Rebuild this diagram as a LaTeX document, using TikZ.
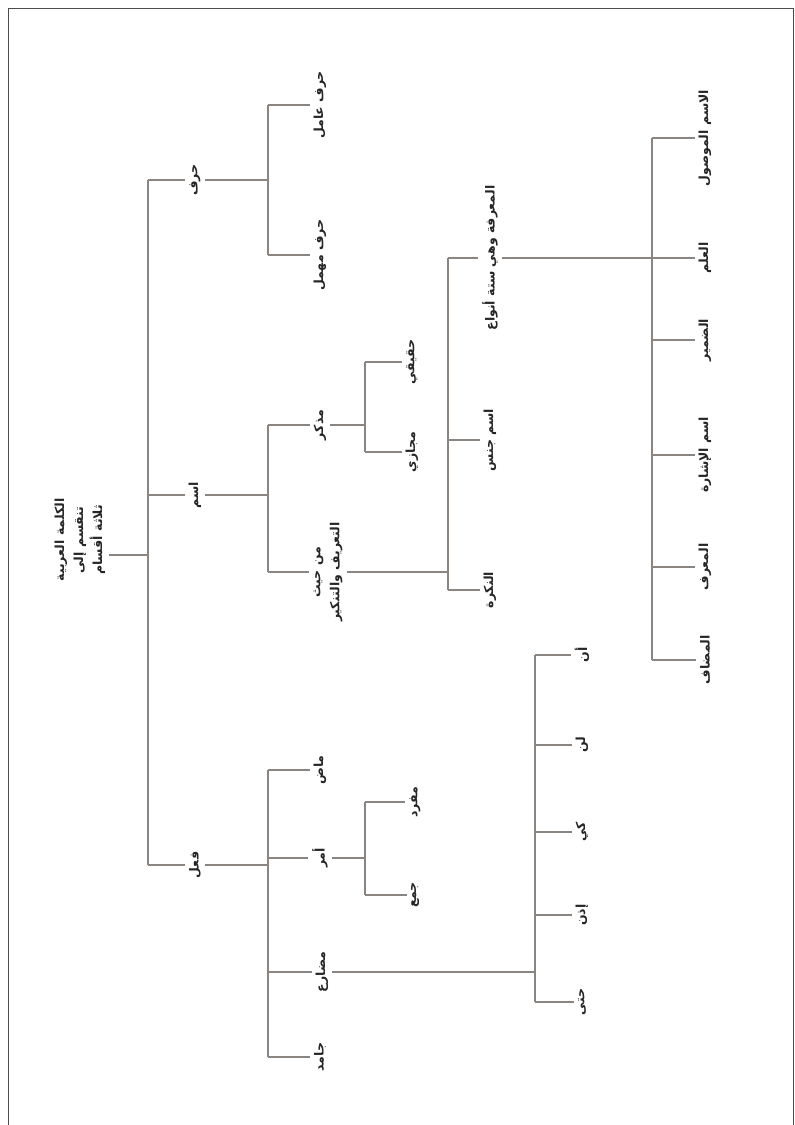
\documentclass[tikz,border=0pt]{standalone}
\usepackage{fontspec}
\newfontfamily\arabicfont[Script=Arabic]{DejaVu Sans}
\TeXXeTstate=1
\newcommand{\AR}[1]{\beginR #1\endR}
\definecolor{linegray}{HTML}{8A8580}
\begin{document}
\begin{tikzpicture}[x=1pt,y=-1pt,
  lbl/.style={rotate=90,font=\arabicfont\bfseries\fontsize{12.5}{19}\selectfont,text=black!85,inner sep=4pt,align=center},
  ln/.style={draw=linegray,line width=1.3pt}]
\useasboundingbox (0,0) rectangle (795,1125);
\draw[black!70,line width=0.8pt] (8,1125) -- (8,8) -- (793,8) -- (793,1125);
% nodes
\node[lbl] (R) at (80,540) {\AR{الكلمة العربية}\\\AR{تنقسم إلى}\\\AR{ثلاثة أقسام}};
\node[lbl] (A) at (195,180) {\AR{حرف}};
\node[lbl] (B) at (195,495) {\AR{اسم}};
\node[lbl] (C) at (195,865) {\AR{فعل}};
\node[lbl] (A1) at (320,105) {\AR{حرف عامل}};
\node[lbl] (A2) at (320,255) {\AR{حرف مهمل}};
\node[lbl] (B1) at (320,425) {\AR{مذكر}};
\node[lbl] (B2) at (328,572) {\AR{من حيث}\\\AR{التعريف والتنكير}};
\node[lbl] (B11) at (412,362) {\AR{حقيقي}};
\node[lbl] (B12) at (412,452) {\AR{مجازي}};
\node[lbl] (B21) at (490,258) {\AR{المعرفة وهي ستة أنواع}};
\node[lbl] (B22) at (490,440) {\AR{اسم جنس}};
\node[lbl] (B23) at (490,590) {\AR{النكرة}};
\node[lbl] (D1) at (705,138) {\AR{الاسم الموصول}};
\node[lbl] (D2) at (705,258) {\AR{العلم}};
\node[lbl] (D3) at (705,340) {\AR{الضمير}};
\node[lbl] (D4) at (705,455) {\AR{اسم الإشارة}};
\node[lbl] (D5) at (705,567) {\AR{المعرف}};
\node[lbl] (D6) at (705,660) {\AR{المضاف}};
\node[lbl] (C1) at (320,770) {\AR{ماض}};
\node[lbl] (C2) at (320,858) {\AR{أمر}};
\node[lbl] (C3) at (322,972) {\AR{مضارع}};
\node[lbl] (C4) at (320,1057) {\AR{جامد}};
\node[lbl] (C21) at (415,802) {\AR{مفرد}};
\node[lbl] (C22) at (415,895) {\AR{جمع}};
\node[lbl] (E1) at (582,655) {\AR{أن}};
\node[lbl] (E2) at (582,745) {\AR{لن}};
\node[lbl] (E3) at (582,832) {\AR{كي}};
\node[lbl] (E4) at (582,915) {\AR{إذن}};
\node[lbl] (E5) at (582,1002) {\AR{حتى}};
% bus coordinates
\coordinate (bR) at (148,0);
\coordinate (bA) at (268,0);
\coordinate (bB) at (268,0);
\coordinate (bC) at (268,0);
\coordinate (bB1) at (365,0);
\coordinate (bB2) at (448,0);
\coordinate (bB21) at (652,0);
\coordinate (bC2) at (365,0);
\coordinate (bC3) at (535,0);
% root
\draw[ln] (R.south |- 0,555) -- (bR |- 0,555);
\draw[ln] (bR |- A) -- (bR |- C);
\foreach \n in {A,B,C} \draw[ln] (bR |- \n) -- (\n.north);
% A
\draw[ln] (A.south) -- (A.south -| bA);
\draw[ln] (bA |- A1) -- (bA |- A2);
\foreach \n in {A1,A2} \draw[ln] (bA |- \n) -- (\n.north);
% B
\draw[ln] (B.south) -- (B.south -| bB);
\draw[ln] (bB |- B1) -- (bB |- B2);
\foreach \n in {B1,B2} \draw[ln] (bB |- \n) -- (\n.north);
% B1
\draw[ln] (B1.south) -- (B1.south -| bB1);
\draw[ln] (bB1 |- B11) -- (bB1 |- B12);
\foreach \n in {B11,B12} \draw[ln] (bB1 |- \n) -- (\n.north);
% B2
\draw[ln] (B2.south) -- (B2.south -| bB2);
\draw[ln] (bB2 |- B21) -- (bB2 |- B23);
\foreach \n in {B21,B22,B23} \draw[ln] (bB2 |- \n) -- (\n.north);
% B21
\draw[ln] (B21.south) -- (B21.south -| bB21);
\draw[ln] (bB21 |- D1) -- (bB21 |- D6);
\foreach \n in {D1,D2,D3,D4,D5,D6} \draw[ln] (bB21 |- \n) -- (\n.north);
% C
\draw[ln] (C.south) -- (C.south -| bC);
\draw[ln] (bC |- C1) -- (bC |- C4);
\foreach \n in {C1,C2,C3,C4} \draw[ln] (bC |- \n) -- (\n.north);
% C2
\draw[ln] (C2.south) -- (C2.south -| bC2);
\draw[ln] (bC2 |- C21) -- (bC2 |- C22);
\foreach \n in {C21,C22} \draw[ln] (bC2 |- \n) -- (\n.north);
% C3
\draw[ln] (C3.south) -- (C3.south -| bC3);
\draw[ln] (bC3 |- E1) -- (bC3 |- E5);
\foreach \n in {E1,E2,E3,E4,E5} \draw[ln] (bC3 |- \n) -- (\n.north);
\end{tikzpicture}
\end{document}
